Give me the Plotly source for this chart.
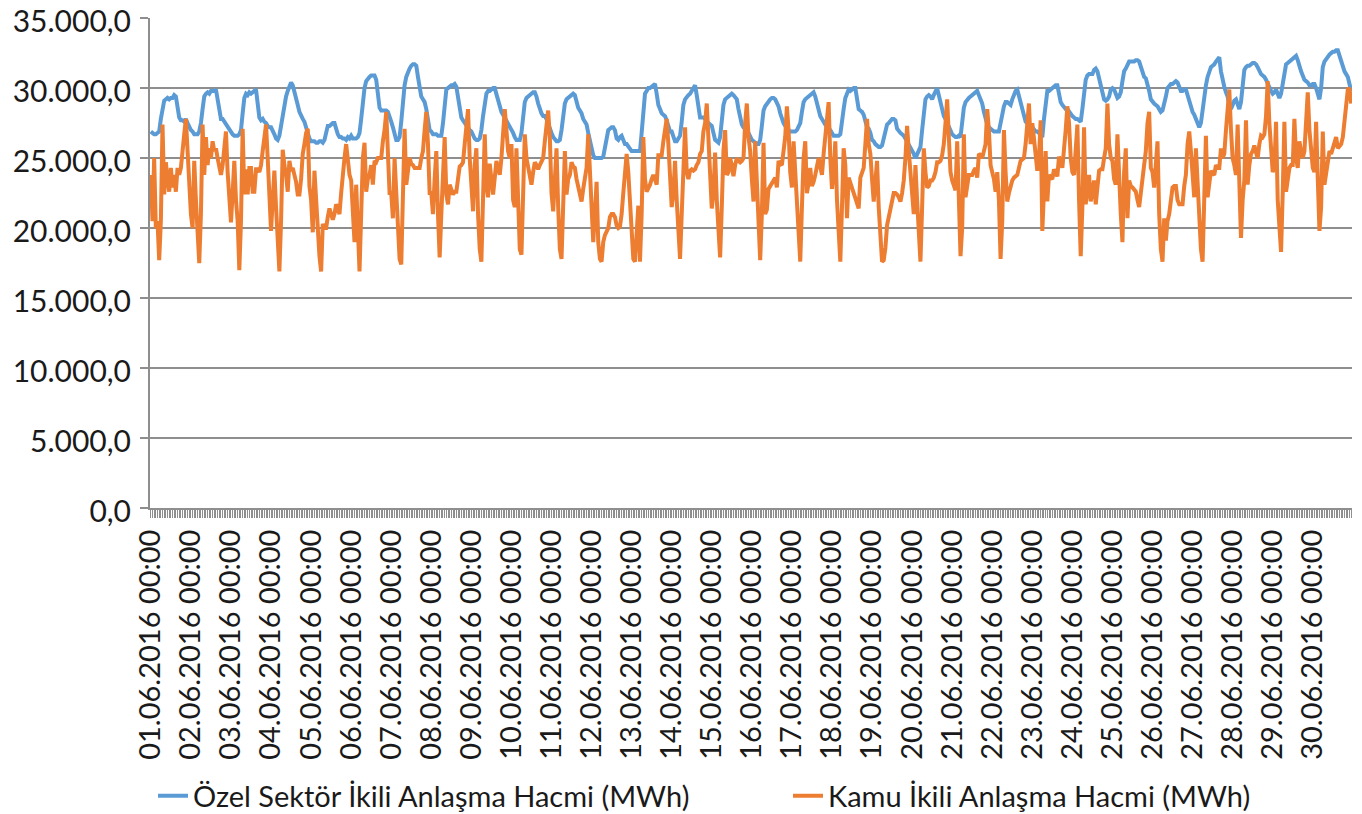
import plotly.graph_objects as go

# Hourly values per day (01.06.2016 - 30.06.2016), MWh
ozel_by_day = [
    [26900,26800,26700,26700,26800,26900,27800,28600,29100,29200,29300,29200,29300,29300,29500,29400,28800,27900,27700,27700,27600,27800,27500,27200],
    [27000,26900,26700,26700,26700,26900,27500,28500,29400,29600,29700,29600,29800,29800,29800,29900,29300,28500,27800,27800,27600,27500,27300,27000],
    [26900,26700,26600,26600,26600,26700,27000,28200,29300,29600,29500,29700,29600,29700,29800,29900,28900,27900,27700,27800,27600,27500,27300,27200],
    [27200,27000,26700,26400,26300,26600,27300,28100,28900,29400,29800,30200,30400,30200,29800,29400,28800,28300,28000,27800,27600,27200,26700,26400],
    [26200,26200,26200,26100,26100,26200,26200,26100,26300,26800,27300,27300,27400,27500,27500,27000,26700,26500,26500,26400,26400,26300,26500,26400],
    [26600,26400,26400,26400,26500,26800,27800,29000,30000,30500,30700,30800,30900,30900,30900,30600,29500,28600,28400,28400,28400,28400,28300,28000],
    [27600,27200,26600,26300,26300,26500,27600,29000,30200,30800,31200,31400,31600,31700,31700,31600,30800,30000,29400,29200,29000,28500,27800,27000],
    [26900,26700,26700,26700,26600,26600,26600,27500,28800,29900,30000,30100,30200,30200,30300,30100,29200,28300,27900,27700,27500,27400,27200,27000],
    [26900,26600,26400,26300,26300,26400,27000,28000,29000,29600,29800,29800,29900,30000,30000,29600,29000,28600,28300,28100,27900,27700,27500,27300],
    [27100,26800,26500,26300,26300,26300,26800,28000,29000,29300,29400,29500,29600,29700,29700,29400,28900,28400,28200,28000,28000,27800,27400,27000],
    [26800,26500,26300,26200,26200,26300,27000,28000,28900,29200,29300,29400,29500,29600,29500,29000,28600,28400,28200,27800,27600,27400,26800,26200],
    [25600,25200,25000,25000,25000,25000,25000,25100,25700,26500,27000,27100,27200,27200,27000,26400,26300,26500,26600,26300,26000,26000,25800,25700],
    [25500,25500,25500,25500,25500,25500,26800,28500,29600,29800,30000,30000,30100,30200,30300,29600,28800,28500,28200,28100,28000,27700,27300,26900],
    [26900,26400,26200,26200,26400,26600,27600,28800,29200,29400,29500,29600,29800,30000,30200,29500,28400,27900,27900,27900,27800,27600,27500,27400],
    [27300,26800,26300,26200,26100,26500,27800,28800,29200,29300,29400,29500,29600,29500,29300,29200,28500,27800,27400,27200,27100,27000,26800,26500],
    [26300,26200,26100,26000,26000,26300,27300,28400,28700,28900,29100,29200,29300,29300,29200,29000,28700,28200,27700,27500,27300,27200,27000,26900],
    [26900,26900,26900,27000,27200,27500,28300,29000,29200,29300,29400,29500,29600,29700,29400,28900,28500,28000,27800,27600,27300,27200,27100,27000],
    [26800,26600,26600,26600,26600,26700,27400,28500,29300,29700,29900,29800,29900,30000,30000,29200,28500,28400,28300,28100,27600,27200,27100,26800],
    [26300,26200,26000,25900,25800,25800,25900,26400,27000,27400,27500,27700,27800,27800,27700,27100,26900,26800,26700,26600,26400,26200,25900,25700],
    [25600,25300,25000,25300,25600,25800,27000,28500,29200,29400,29500,29400,29200,29500,29800,30000,29500,29000,28300,28000,27800,27500,27300,27000],
    [26700,26600,26500,26500,26600,26500,27500,28600,29000,29200,29300,29400,29500,29600,29700,29800,29500,29200,28900,28300,27700,27400,27200,27100],
    [27000,26900,26900,26900,26900,27500,28300,28700,29000,29000,28900,28800,29200,29600,29800,29900,29400,29000,28600,28200,27600,27500,27300,27200],
    [27200,27000,26900,26900,26800,26600,26500,27800,29000,29800,29800,29900,30000,30100,30200,30200,29600,29000,28800,28600,28500,28500,28300,28100],
    [28000,27900,27800,27800,27700,27600,28500,29800,30600,30900,31000,31000,31000,31300,31400,31200,30700,30100,29600,29200,29100,29200,29400,29900],
    [30000,29900,29600,29300,29400,29700,30500,31200,31400,31700,31900,31900,31900,31900,32000,32000,31900,31500,31100,30800,30700,30300,29800,29200],
    [29000,28900,28800,28700,28500,28300,28400,28800,29400,30000,30200,30300,30300,30400,30500,30400,30000,29800,29800,29900,29900,29500,28900,28600],
    [28300,28100,27800,27500,27200,27500,28600,29500,30200,30800,31300,31500,31600,31700,31900,32100,32200,31200,30500,30100,29700,29400,28800,28500],
    [28800,29100,29200,28900,28500,29000,30500,31300,31500,31600,31600,31700,31800,31800,31700,31500,31200,31000,30900,30800,30600,30300,30000,29800],
    [29600,29700,29900,29600,29300,29600,30300,31000,31700,31800,31900,32000,32100,32200,32300,32000,31500,31200,30900,30600,30500,30400,30200,30200],
    [30300,30300,30000,29600,29200,30000,31500,31900,32100,32300,32400,32500,32600,32600,32700,32700,32300,31800,31500,31200,31000,30800,30300,29800],
]

kamu_by_day = [
    [23800,20500,25000,20000,20500,17700,20500,27400,22400,24700,23500,22600,24300,22900,23800,22600,24300,23800,24300,26000,26700,27800,25500,22500],
    [21000,20000,24800,22000,20000,17500,21000,27400,23800,26500,24500,25700,25000,26200,25500,25700,25000,24500,23800,24500,26000,26900,24000,21500],
    [20400,22500,24800,22000,20500,17000,20500,27100,22400,24200,22400,24300,24300,22600,22600,24200,24200,24000,24500,25500,26500,27400,25000,22000],
    [19800,22000,24100,21500,19700,16900,20500,25600,24500,23800,22600,24800,24100,24300,23800,23300,22400,22400,23500,25300,26000,26800,27100,23000],
    [22000,19700,24100,22000,19700,18000,16900,20300,20000,20000,20800,21400,21000,20600,21000,21700,21400,21000,22500,24100,25000,26000,24800,23800],
    [23400,21000,19000,23100,19000,16900,21000,25000,26100,22600,23500,23800,24500,23100,24800,24700,25000,25000,25000,26200,27000,28300,25500,22500],
    [22500,20700,25000,22500,20000,17800,17400,22000,27100,23100,24000,25000,24600,24500,24300,24300,24300,24300,25000,25500,27000,28300,26000,22500],
    [22500,21000,23500,25500,21000,17900,21000,24000,26500,22400,21700,23100,22800,22400,22600,22600,23500,24400,24500,24700,26000,27500,28500,25000],
    [23000,21200,24500,25700,21000,18500,17600,23000,26700,23000,22200,24600,23500,22400,23600,24800,24300,23800,25000,26500,28500,27000,25500,25000],
    [26000,22000,21500,25700,21000,18500,18100,23000,26700,25000,24300,23500,23100,24000,24700,24500,24200,24500,24800,25000,26200,27500,28400,26500],
    [22500,21200,24000,25700,21500,18500,17800,22000,25500,22400,23500,23800,24700,24400,24300,23500,22900,22200,21900,22800,23800,24300,26700,24000],
    [21200,19000,21000,23300,19000,17800,17600,19000,19500,19800,20000,20800,21000,21000,20800,20200,20000,20100,21000,22500,24000,25300,24000,21500],
    [19500,17800,17600,20000,21600,17600,21000,26500,23500,22600,22800,23100,23500,23800,23500,23100,25200,25200,25200,26200,27000,27800,26000,23000],
    [21500,22500,24800,22000,20000,17800,21000,25000,27200,24000,23500,24100,24200,24100,24200,24500,24700,25300,25500,26900,27500,28900,26000,23000],
    [21400,22500,25400,22000,19500,17900,21500,25500,27000,23800,24000,25000,24500,23700,24500,25000,24800,24700,24800,25000,27500,28900,26500,25500],
    [23500,21900,26200,23000,20000,17700,21000,26100,21000,21300,22800,23000,23100,23300,23600,22900,24800,24600,24500,25500,26500,28700,27000,24000],
    [22900,26200,24000,22800,19500,17600,21500,25000,26200,22500,23200,24300,23000,23300,23800,24300,25000,24400,23800,25300,26700,28000,29000,25000],
    [22800,24000,26200,22000,19500,17600,21500,25700,24500,20700,23600,23200,22900,22600,22200,21800,21400,23600,24000,24300,26000,27800,26000,25300],
    [23500,21900,23300,24800,21500,19000,17600,17700,18600,20200,20800,21400,22000,22500,22500,22400,22200,21900,22500,23400,25000,27300,25500,24300],
    [22500,21000,24500,22000,19500,17600,21500,25700,24000,22900,23000,23400,23400,23600,24000,24700,24700,24800,25200,26000,27500,29200,26500,24000],
    [23400,23000,22700,26200,21000,18000,20000,26700,22200,23000,23800,23800,23800,24100,24300,23600,25300,25200,25000,25500,26000,28500,27000,24500],
    [24000,23500,22600,24000,22000,17800,20500,27000,24000,21900,22500,23100,23400,23600,23700,23800,24300,24800,24900,25000,26000,27800,28900,26000],
    [27500,26400,24800,24100,25000,27700,19800,22000,25500,21900,23800,23600,23500,24200,24000,23700,25100,24800,24300,25500,27000,28700,27500,25000],
    [24000,23800,25500,27400,22000,18000,21500,27200,21700,23000,23800,21900,22500,23400,21700,23000,24100,24200,24200,25000,25700,28900,26000,25000],
    [24800,23500,23100,26700,23000,21000,19000,24000,25700,20700,23400,23000,22900,22700,22600,22000,21500,22500,23400,24500,25500,27500,28300,24300],
    [24000,22900,25000,26200,21000,18500,17600,20700,19100,20500,21000,22000,22900,23000,23000,22000,21700,21700,21700,23000,23800,26000,26900,25500],
    [24000,22200,25700,23000,20500,18500,17600,23500,26600,22200,23500,24100,23900,23800,24500,24300,24300,25700,25000,25300,27000,28500,29900,27000],
    [25000,24500,23800,27400,23000,19300,22000,23400,27700,23100,24500,25300,25500,25900,25400,25000,26000,26600,26500,26700,28000,30500,27500,25500],
    [24000,24300,27600,22000,20500,18300,22500,27600,22600,23500,24300,24500,24500,27800,25000,24300,26200,25500,25000,25500,27500,29700,27000,25500],
    [24300,24000,27600,23500,19800,21500,26900,23100,24000,25000,25500,25300,25700,25900,26500,25700,25900,26000,26500,27600,28500,29900,30000,28900],
]

day_labels = ["%02d.06.2016 00:00" % d for d in range(1, 31)]
series_names = ["Özel Sektör İkili Anlaşma Hacmi (MWh)", "Kamu İkili Anlaşma Hacmi (MWh)"]

ozel = [v for day in ozel_by_day for v in day]
kamu = [v for day in kamu_by_day for v in day]
hours = list(range(len(ozel)))
tick_pos = [24 * i for i in range(len(day_labels))]

FONT = "Lato"
GRID = "#8e8e8e"
W, H = 1354, 806

fig = go.Figure()
fig.add_trace(go.Scatter(x=hours, y=ozel, mode="lines", name=series_names[0],
                         line=dict(color="#5B9BD5", width=4), legend="legend"))
fig.add_trace(go.Scatter(x=hours, y=kamu, mode="lines", name=series_names[1],
                         line=dict(color="#ED7D31", width=4), legend="legend2"))

leg_common = dict(orientation="h", xref="container", yref="container",
                  xanchor="left", yanchor="middle", y=(H - 788) / H,
                  font=dict(family=FONT, size=29, color="#1a1a1a"),
                  bgcolor="rgba(0,0,0,0)")

fig.update_layout(
    template="none",
    width=W, height=H,
    margin=dict(l=142, r=10, t=10, b=306, autoexpand=False),
    paper_bgcolor="white", plot_bgcolor="white",
    font=dict(family=FONT, color="#1a1a1a", size=29),
    separators=",.",
    showlegend=True,
    legend=dict(leg_common, x=145 / W),
    legend2=dict(leg_common, x=780 / W),
)
fig.update_xaxes(
    range=[-0.5, len(ozel) - 0.5], automargin=False,
    tickmode="array", tickvals=tick_pos, ticktext=day_labels,
    tickangle=-90, tickfont=dict(family=FONT, size=29),
    ticks="outside", ticklen=8, tickcolor=GRID, tickwidth=1,
    minor=dict(dtick=1, tick0=0, ticks="outside", ticklen=8, tickcolor=GRID, tickwidth=1, showgrid=False),
    showgrid=False, zeroline=False,
    showline=True, linecolor=GRID, linewidth=2,
)
fig.update_yaxes(
    range=[0, 35010], dtick=5000, tick0=0, tickformat=",.1f", automargin=False,
    tickfont=dict(family=FONT, size=30), ticklabelstandoff=3, ticklabeloverflow="allow",
    ticklabelshift=3,
    ticks="outside", ticklen=8, tickcolor=GRID, tickwidth=2,
    showgrid=True, gridcolor=GRID, gridwidth=2,
    zeroline=False, showline=True, linecolor=GRID, linewidth=2,
)

fig.write_html("out.html")
